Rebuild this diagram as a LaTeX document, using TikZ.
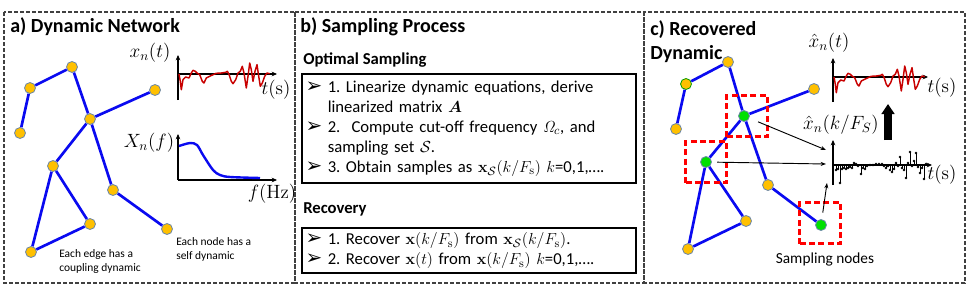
\documentclass[tikz,border=0pt]{standalone}
\usepackage[no-math]{fontspec}
\setmainfont{Carlito}
\newfontfamily\symfont{DejaVu Sans}
\usepackage{amsmath,bm}
\usetikzlibrary{arrows.meta,positioning,calc}
\definecolor{nodeorange}{HTML}{FFC000}
\definecolor{nodegreen}{HTML}{00E000}
\definecolor{nodeline}{HTML}{6A86A8}
\definecolor{netblue}{HTML}{0A0AF0}
\definecolor{wavered}{HTML}{C80000}
\newcommand{\blt}{{\symfont\fontsize{15}{12}\selectfont\char"27A2}}
\frenchspacing

\begin{document}
\begin{tikzpicture}[x=0.75pt, y=-0.75pt,
    nd/.style={circle, minimum size=8.25pt, inner sep=0pt, fill=nodeorange, draw=nodeline, line width=0.6pt},
    gnd/.style={nd, fill=nodegreen},
    link/.style={netblue, line width=2pt},
    panel/.style={draw=black!75, line width=0.8pt, dash pattern=on 3pt off 1.5pt},
    axline/.style={line width=0.9pt, -{Stealth[length=4pt,width=3.5pt]}},
    title/.style={anchor=west, inner sep=0pt, font=\fontsize{15}{18}\selectfont\bfseries, align=left},
    head/.style={anchor=west, inner sep=0pt, font=\fontsize{12.5}{15}\selectfont\bfseries},
    stepbox/.style={draw, line width=1.5pt, anchor=north west, minimum width=250.5pt, inner sep=2pt, text width=245pt, align=left, font=\fontsize{12.5}{15}\selectfont},
    note/.style={anchor=west, inner sep=0pt, align=left, font=\fontsize{8.6}{10.5}\selectfont},
    lbl/.style={inner sep=0pt, font=\fontsize{14}{16}\selectfont},
    selbox/.style={draw=red, line width=1.6pt, dash pattern=on 4.5pt off 2.5pt, minimum size=30.75pt, inner sep=0pt},
    pick/.style={line width=0.7pt, -{Stealth[length=4pt,width=3pt]}},
    wave/.pic={\draw[wavered, line width=1.1pt, line join=round] (1,0) -- (2.3,7.3) -- (3.3,15.7) -- (5,5.7) -- (7.7,3) -- (11,4) -- (13.3,-1) -- (15,-3.7) -- (17.3,-2.7) -- (19,-1) -- (21.7,0.7) -- (24.3,7.3) -- (26,9) -- (28.3,4) -- (31.7,2.3) -- (35,0.7) -- (38.3,-0.7) -- (43.3,-1) -- (47.7,-1.7) -- (49.3,-2.7) -- (51,0.3) -- (53.3,7.3) -- (55,9.7) -- (57.7,5.7) -- (60,-1) -- (62.3,-2.7) -- (64.3,-7.7) -- (66,-1) -- (68.3,14) -- (70,2.3) -- (71.7,-11) -- (73.3,-4.3) -- (75,7.3) -- (77,-2.7) -- (79,-9.3) -- (80.7,2.3) -- (82.3,12.3) -- (84.3,9) -- (86.7,2.3) -- (89,-1) -- (91.7,-0.3);}]
\useasboundingbox (0,0) rectangle (969,293);
\draw[panel] (4,12) rectangle (295,283);
\draw[panel] (295,12) rectangle (644,283);
\draw[panel] (644,12) rectangle (965,283);

\node[title] (ta) at (10,27) {a) Dynamic Network};
\node[nd] (a1) at (72,67) {};
\node[nd] (a2) at (30,88) {};
\node[nd] (a3) at (20,133) {};
\node[nd] (a4) at (90,119) {};
\node[nd] (a5) at (155,90) {};
\node[nd] (a6) at (53,166) {};
\node[nd] (a7) at (113,190) {};
\node[nd] (a8) at (90,224) {};
\node[nd] (a9) at (167,229) {};
\node[nd] (a10) at (31,252) {};
\draw[link] (a2) -- (a1) (a2) -- (a3) (a1) -- (a4) (a4) -- (a5) (a4) -- (a6) (a4) -- (a7) (a7) -- (a9) (a6) -- (a8) (a6) -- (a10) (a10) -- (a8);
\node[note] (edgenote) at (59,261) {Each edge has a\\coupling dynamic};
\node[note] (selfnote) at (176,249) {Each node has a\\self dynamic};

\draw[axline] (178,100) -- (178,55);
\draw[axline] (178,74) -- (277,74);
\pic at (178,74) {wave};
\node[lbl] (xt) at (150,53) {$x_n(t)$};
\node[lbl] (ta1) at (276,90) {$t(\mathrm{s})$};
\draw[axline] (178,180) -- (178,134);
\draw[axline] (178,180) -- (277,180);
\draw[netblue, line width=1.8pt] plot[smooth] coordinates {(179,146) (190,143) (197,145) (203,155) (213,170) (220,175) (230,177) (260,178)};
\node[lbl] (xf) at (149,143) {$X_n(f)$};
\node[lbl] (fa) at (272,194) {$f(\mathrm{Hz})$};

\node[title] (tb) at (300,27) {b) Sampling Process};
\node[head] (hopt) at (303,60) {Optimal Sampling};
\node[stepbox, minimum height=81.75pt] (opt) at (301,73) {\begin{tabular}{@{}l@{\hspace{4pt}}l@{}}
\blt & 1. Linearize dynamic equations, derive\\
 & linearized matrix $\boldsymbol{A}$\\
\blt & 2.\ \ Compute cut-off frequency $\mathit{\Omega}_c$, and\\
 & sampling set $\mathcal{S}$.\\
\blt & 3. Obtain samples as $\mathbf{x}_{\mathcal{S}}(k/F_{\mathrm{s}})$ $k$=0,1,\dots.
\end{tabular}};
\node[head] (hrec) at (303,209) {Recovery};
\node[stepbox, minimum height=32.25pt] (rec) at (301,227) {\begin{tabular}{@{}l@{\hspace{4pt}}l@{}}
\blt & 1. Recover $\mathbf{x}(k/F_{\mathrm{s}})$ from $\mathbf{x}_{\mathcal{S}}(k/F_{\mathrm{s}})$.\\
\blt & 2. Recover $\mathbf{x}(t)$ from $\mathbf{x}(k/F_{\mathrm{s}})$ $k$=0,1,\dots.
\end{tabular}};

\node[title] (tc) at (650,42) {c) Recovered\\Dynamic};
\node[nd] (c1) at (728,62) {};
\node[nd, draw=nodegreen!70!black] (c2) at (686,84) {};
\node[nd] (c3) at (676,129) {};
\node[gnd] (c4) at (744,116) {};
\node[nd] (c5) at (814,89) {};
\node[gnd] (c6) at (706,162) {};
\node[nd] (c7) at (768,185) {};
\node[nd] (c8) at (746,221) {};
\node[gnd] (c9) at (821,225) {};
\node[nd] (c10) at (688,249) {};
\draw[link] (c2) -- (c1) (c2) -- (c3) (c1) -- (c4) (c4) -- (c5) (c4) -- (c6) (c4) -- (c7) (c7) -- (c9) (c6) -- (c8) (c6) -- (c10) (c10) -- (c8);
\node[selbox] (s4) at (747,116) {};
\node[selbox] (s6) at (706,162) {};
\node[selbox] (s9) at (820,223) {};
\node[note, anchor=center, font=\fontsize{11.5}{13}\selectfont] (sn) at (825,259) {Sampling nodes};

\draw[axline] (833,102) -- (833,58);
\draw[axline] (833,77) -- (928,77);
\pic at (833,77) {wave};
\node[lbl] (xht) at (829,43) {$\hat{x}_n(t)$};
\node[lbl] (tc1) at (942,88) {$t(\mathrm{s})$};

\draw[axline] (833,185) -- (833,140);
\draw[axline] (833,165) -- (932,165);
\begin{scope}[shift={(833,165)}]
\foreach \dx/\dy in {3/5,5/4,7/18,9/4,11/3,13/4,15/3,17/2,19/3,21/-2,23/-1,25/1,28/9,30/3,32/4,34/1,37/0,40/0,43/-1,46/-1,49/-1,51/1,53/3,55/1,57/5,59/7,61/4,63/-2,65/1,67/-8,69/3,71/5,73/13,75/-2,77/-13,79/1,81/-4,83/-12,85/2,87/8,89/3,91/14,93/-1}
  {\draw[line width=0.6pt] (\dx,0) -- (\dx,\dy); \fill (\dx,\dy) circle (1pt);}
\end{scope}
\node[lbl] (xhk) at (841,125) {$\hat{x}_n(k/F_S)$};
\node[lbl] (tc2) at (942,175) {$t(\mathrm{s})$};

\coordinate (p4) at (826,150);
\coordinate (p6) at (826,164);
\coordinate (p9) at (827,183);
\draw[pick, shorten <=7pt] (c4) -- (p4);
\draw[pick, shorten <=4pt] (c6) -- (p6);
\draw[pick, shorten <=5pt] (c9) -- (p9);
\coordinate (up1) at (888,140);
\coordinate (up2) at (888,104);
\draw[line width=5.5pt, -{Triangle[length=7.5pt,width=9.5pt]}] (up1) -- (up2);
\end{tikzpicture}
\end{document}
